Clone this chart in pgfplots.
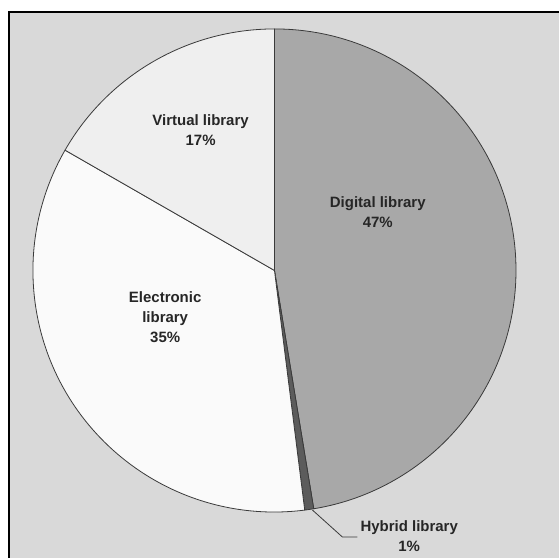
\documentclass[border=0pt]{standalone}
\usepackage{pgfplots}
\usepackage{pgfplotstable}
\pgfplotsset{compat=1.18}
\usepackage{fontspec}
\setmainfont{Liberation Sans}
\definecolor{bgc}{HTML}{D9D9D9}
\definecolor{cdig}{HTML}{A8A8A8}
\definecolor{chyb}{HTML}{5C5C5C}
\definecolor{cele}{HTML}{FAFAFA}
\definecolor{cvir}{HTML}{EFEFEF}
\definecolor{edge}{HTML}{3A3A3A}
\pgfplotstableread{
value color
47.4 cdig
0.6 chyb
35.3 cele
16.7 cvir
}\piedata
\begin{document}
\begin{tikzpicture}
\begin{axis}[
  scale only axis, width=560bp, height=559bp,
  xmin=0, xmax=560, ymin=0, ymax=559,
  hide axis, clip=false,
]
\fill[white] (axis cs:0,0) rectangle (axis cs:560,559);
\fill[bgc] (axis cs:8,0) rectangle (axis cs:560,548);
\draw[black, line width=2.2bp] (axis cs:9,0) -- (axis cs:9,547) -- (axis cs:560,547);
\pgfplotstablegetrowsof{\piedata}
\pgfmathtruncatemacro\N{\pgfplotsretval-1}
\def\cum{0}
\pgfplotsforeachungrouped \i in {0,...,\N}{%
  \pgfplotstablegetelem{\i}{value}\of\piedata
  \let\v\pgfplotsretval
  \pgfmathsetmacro\a{90-3.6*\cum}%
  \pgfmathsetmacro\b{90-3.6*(\cum+\v)}%
  \pgfplotstablegetelem{\i}{color}\of\piedata
  \edef\col{\pgfplotsretval}%
  \edef\temp{\noexpand\filldraw[fill=\col, draw=edge, line width=0.8bp, line join=round] (axis cs:275,288) -- ++(\a:242bp) arc[start angle=\a, end angle=\b, radius=242bp] -- cycle;}%
  \temp
  \pgfmathsetmacro\cum{\cum+\v}%
}
\draw[edge, line width=0.8bp] (axis cs:313,48) -- (axis cs:343,21) -- (axis cs:358,21);
\begin{scope}[every node/.style={align=center, font=\fontsize{15bp}{20bp}\selectfont\bfseries, text=black!85}]
\node at (axis cs:378.5,346) {Digital library\\47\%};
\node at (axis cs:201,428.5) {Virtual library\\17\%};
\node at (axis cs:165.5,241) {Electronic\\library\\35\%};
\node at (axis cs:410,22) {Hybrid library\\1\%};
\end{scope}
\end{axis}
\end{tikzpicture}
\end{document}
